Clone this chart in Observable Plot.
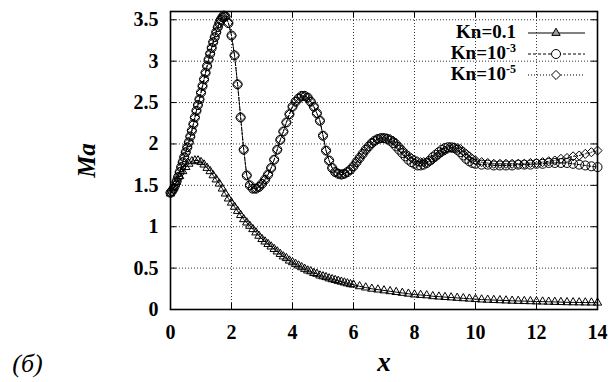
<!DOCTYPE html>
<html><head><meta charset="utf-8">
<script src="https://cdn.jsdelivr.net/npm/d3@7"></script>
<script src="https://cdn.jsdelivr.net/npm/@observablehq/plot@0.6"></script>
<style>
body{margin:0;background:#fff}
#chart{width:613px;height:382px}
</style>
</head><body><div id="chart"></div>
<script>
// ---- data ----
const xTicks = [0, 2, 4, 6, 8, 10, 12, 14];
const yTicks = [0, 0.5, 1, 1.5, 2, 2.5, 3, 3.5];
const seriesNames = ["Kn=0.1", "Kn=10", "Kn=10"];
const seriesExp = ["", "-3", "-5"];

// Kn = 0.1 (triangles, solid)
const xLow = [0,0.1,0.2,0.3,0.4,0.5,0.6,0.7,0.8,0.9,1,1.1,1.2,1.3,1.4,1.5,1.6,1.7,1.8,1.9,2,2.1,2.2,2.3,2.4,2.5,2.6,2.7,2.8,2.9,3,3.1,3.2,3.3,3.4,3.5,3.6,3.7,3.8,3.9,4,4.1,4.2,4.3,4.4,4.5,4.6,4.7,4.8,4.9,5,5.1,5.2,5.3,5.4,5.5,5.6,5.7,5.8,5.9,6,6.2,6.4,6.6,6.8,7,7.2,7.4,7.6,7.8,8,8.2,8.4,8.6,8.8,9,9.2,9.4,9.6,9.8,10,10.2,10.4,10.6,10.8,11,11.2,11.4,11.6,11.8,12,12.2,12.4,12.6,12.8,13,13.2,13.4,13.6,13.8,14];
const kn1 = [1.40,1.47,1.54,1.61,1.67,1.72,1.76,1.79,1.80,1.80,1.78,1.75,1.71,1.67,1.62,1.57,1.52,1.46,1.40,1.34,1.29,1.24,1.19,1.14,1.09,1.05,1.01,0.97,0.93,0.89,0.85,0.82,0.79,0.76,0.73,0.70,0.67,0.64,0.62,0.59,0.57,0.55,0.53,0.51,0.49,0.47,0.46,0.44,0.43,0.41,0.40,0.39,0.375,0.365,0.355,0.345,0.335,0.325,0.315,0.305,0.30,0.28,0.265,0.25,0.24,0.23,0.22,0.21,0.20,0.19,0.18,0.175,0.17,0.16,0.155,0.15,0.145,0.14,0.135,0.13,0.125,0.12,0.117,0.114,0.111,0.108,0.105,0.103,0.101,0.099,0.097,0.095,0.093,0.091,0.089,0.087,0.086,0.085,0.084,0.083,0.082];

// Kn = 1e-3 (circles, dashed) and Kn = 1e-5 (diamonds, dotted)
const xHigh = [0,0.05,0.1,0.15,0.2,0.25,0.3,0.35,0.4,0.45,0.5,0.55,0.6,0.65,0.7,0.75,0.8,0.85,0.9,0.95,1,1.05,1.1,1.15,1.2,1.25,1.3,1.35,1.4,1.45,1.5,1.55,1.6,1.65,1.7,1.75,1.8,
1.9,2,2.1,2.2,2.3,2.4,2.5,2.6,2.7,2.8,2.9,3,3.1,3.2,3.3,3.4,3.5,3.6,3.7,3.8,3.9,4,4.1,4.2,4.3,4.4,4.5,4.6,4.7,4.8,4.9,5,5.1,5.2,5.3,5.4,5.5,5.6,5.7,5.8,5.9,6,6.1,6.2,6.3,6.4,6.5,6.6,6.7,6.8,6.9,7,7.1,7.2,7.3,7.4,7.5,7.6,7.7,7.8,7.9,8,8.1,8.2,8.3,8.4,8.5,8.6,8.7,8.8,8.9,9,9.1,9.2,9.3,9.4,9.5,9.6,9.7,9.8,9.9,10,
10.2,10.4,10.6,10.8,11,11.2,11.4,11.6,11.8,12,12.2,12.4,12.6,12.8,13,13.2,13.4,13.6,13.8,14];
const kn3 = [1.41,1.43,1.46,1.50,1.55,1.60,1.66,1.72,1.78,1.84,1.90,1.96,2.02,2.09,2.16,2.24,2.32,2.40,2.47,2.54,2.62,2.70,2.78,2.86,2.94,3.02,3.09,3.16,3.23,3.29,3.35,3.41,3.46,3.50,3.53,3.55,3.54,
3.46,3.31,3.07,2.72,2.32,1.93,1.62,1.50,1.46,1.46,1.48,1.52,1.57,1.63,1.71,1.81,1.93,2.05,2.15,2.26,2.36,2.45,2.51,2.55,2.58,2.58,2.56,2.51,2.45,2.37,2.28,2.10,1.92,1.80,1.71,1.66,1.64,1.63,1.64,1.66,1.69,1.73,1.78,1.83,1.88,1.93,1.97,2.01,2.04,2.06,2.07,2.07,2.06,2.04,2.01,1.97,1.93,1.89,1.85,1.81,1.78,1.76,1.74,1.74,1.75,1.77,1.80,1.84,1.87,1.90,1.93,1.95,1.96,1.96,1.95,1.93,1.90,1.86,1.82,1.79,1.77,1.76,
1.75,1.75,1.74,1.74,1.74,1.74,1.75,1.75,1.75,1.76,1.76,1.77,1.77,1.77,1.77,1.76,1.75,1.74,1.73,1.72];
const kn5 = [1.41,1.43,1.46,1.50,1.55,1.60,1.66,1.72,1.78,1.84,1.90,1.96,2.02,2.09,2.16,2.24,2.32,2.40,2.47,2.54,2.62,2.70,2.78,2.86,2.94,3.02,3.09,3.16,3.23,3.29,3.35,3.41,3.46,3.50,3.53,3.55,3.54,
3.46,3.31,3.07,2.72,2.32,1.93,1.62,1.50,1.46,1.46,1.48,1.52,1.57,1.63,1.71,1.81,1.93,2.05,2.15,2.26,2.36,2.45,2.51,2.55,2.58,2.58,2.56,2.51,2.45,2.37,2.28,2.10,1.92,1.80,1.71,1.66,1.64,1.63,1.64,1.66,1.69,1.73,1.78,1.83,1.88,1.93,1.97,2.01,2.04,2.06,2.07,2.07,2.07,2.06,2.04,2.01,1.97,1.93,1.89,1.86,1.83,1.81,1.79,1.78,1.78,1.78,1.79,1.81,1.84,1.87,1.90,1.92,1.94,1.95,1.96,1.95,1.94,1.91,1.88,1.85,1.82,1.80,
1.78,1.77,1.76,1.76,1.76,1.76,1.76,1.76,1.77,1.77,1.78,1.79,1.80,1.82,1.83,1.85,1.86,1.88,1.90,1.92];

// ---- tables ----
const low = xLow.map((x, i) => ({x, y: kn1[i]}));
const high = xHigh.map((x, i) => ({x, a: kn3[i], b: kn5[i]}));

const W = 613, H = 382, mL = 170, mR = 16, mT = 11, mB = 73;
const pw = W - mL - mR, ph = H - mT - mB;
const FONT = "Liberation Serif";

const plot = Plot.plot({
  width: W, height: H,
  marginLeft: mL, marginRight: mR, marginTop: mT, marginBottom: mB,
  style: {background: "#fff", color: "#000", overflow: "visible", fontFamily: FONT},
  x: {domain: [0, 14]},
  y: {domain: [0, 3.6]},
  marks: [
    Plot.gridX(xTicks.slice(1, -1), {stroke: "#222", strokeOpacity: 0.9, strokeDasharray: "1,2"}),
    Plot.gridY(yTicks.slice(1), {stroke: "#222", strokeOpacity: 0.9, strokeDasharray: "1,2"}),
    Plot.axisX(xTicks, {tickSize: 0, tickPadding: 15, fontSize: 20, fontWeight: "bold", fontFamily: FONT, label: null, tickFormat: d => String(d)}),
    Plot.axisY(yTicks, {tickSize: 0, tickPadding: 12, fontSize: 20, fontWeight: "bold", fontFamily: FONT, label: null, tickFormat: d => String(d)}),
    Plot.tickX(xTicks, {x: d => d, insetTop: ph - 6, stroke: "#000"}),
    Plot.tickX(xTicks, {x: d => d, insetBottom: ph - 6, stroke: "#000"}),
    Plot.tickY(yTicks, {y: d => d, insetRight: pw - 6, stroke: "#000"}),
    Plot.tickY(yTicks, {y: d => d, insetLeft: pw - 6, stroke: "#000"}),
    Plot.line(low, {x: "x", y: "y", stroke: "#000", strokeWidth: 1}),
    Plot.dot(low, {x: "x", y: "y", symbol: "triangle", r: 3.1, stroke: "#000", strokeWidth: 1, fill: "none"}),
    Plot.line(high, {x: "x", y: "a", stroke: "#000", strokeWidth: 1, strokeDasharray: "3,2"}),
    Plot.dot(high, {x: "x", y: "a", symbol: "circle", r: 4.5, stroke: "#000", strokeWidth: 1, fill: "none"}),
    Plot.line(high, {x: "x", y: "b", stroke: "#000", strokeWidth: 1, strokeDasharray: "1,2"}),
    Plot.dot(high, {x: "x", y: "b", symbol: "diamond2", r: 4.1, stroke: "#000", strokeWidth: 1, fill: "none"}),
    Plot.frame({stroke: "#000", strokeWidth: 1.6}),
    Plot.text(["Ma"], {text: d => d, frameAnchor: "left", dx: -84, rotate: -90, textAnchor: "middle", lineAnchor: "middle", fontSize: 25, fontWeight: "bold", fontStyle: "italic", fontFamily: FONT}),
    Plot.text(["x"], {text: d => d, frameAnchor: "bottom", dy: 53, textAnchor: "middle", lineAnchor: "middle", fontSize: 27, fontWeight: "bold", fontStyle: "italic", fontFamily: FONT}),
    Plot.text(["(б)"], {text: d => d, frameAnchor: "bottom-left", dx: -143, dy: 54, textAnchor: "middle", lineAnchor: "middle", fontSize: 26, fontStyle: "italic", fontFamily: FONT})
  ]
});

// ---- legend (inside frame, top right) ----
const svg = d3.select(plot).attr("font-family", FONT);
const lg = svg.append("g");
const symbols = [d3.symbolTriangle, d3.symbolCircle, d3.symbolDiamond2];
const radii = [3.1, 4.5, 4.1];
const dashes = [null, "3,2", "1,2"];
const fills = ["#999", "#fff", "#fff"];
seriesNames.forEach((name, i) => {
  const base = 38 + i * 21;
  const t = lg.append("text").attr("x", 516).attr("y", base).attr("text-anchor", "end")
    .attr("font-weight", "bold").attr("font-size", 19);
  t.append("tspan").attr("font-weight", "bold").attr("font-size", 19).text(name);
  if (seriesExp[i]) t.append("tspan").attr("font-weight", "bold").attr("font-size", 12).attr("dy", -7).text(seriesExp[i]);
  const ly = base - 5;
  lg.append("line").attr("x1", 528).attr("x2", 585).attr("y1", ly).attr("y2", ly)
    .attr("stroke", "#000").attr("stroke-width", 1).attr("stroke-dasharray", dashes[i]);
  lg.append("path").attr("transform", `translate(556,${ly})`)
    .attr("d", d3.symbol(symbols[i], Math.PI * radii[i] * radii[i])())
    .attr("fill", fills[i]).attr("stroke", "#000").attr("stroke-width", 1);
});

// apply the serif family directly on every text element (attribute and inline style)
svg.selectAll("g").attr("font-family", FONT);
svg.selectAll("text, tspan").attr("font-family", FONT).style("font-family", FONT);

document.getElementById("chart").appendChild(plot);
</script>
</body></html>
